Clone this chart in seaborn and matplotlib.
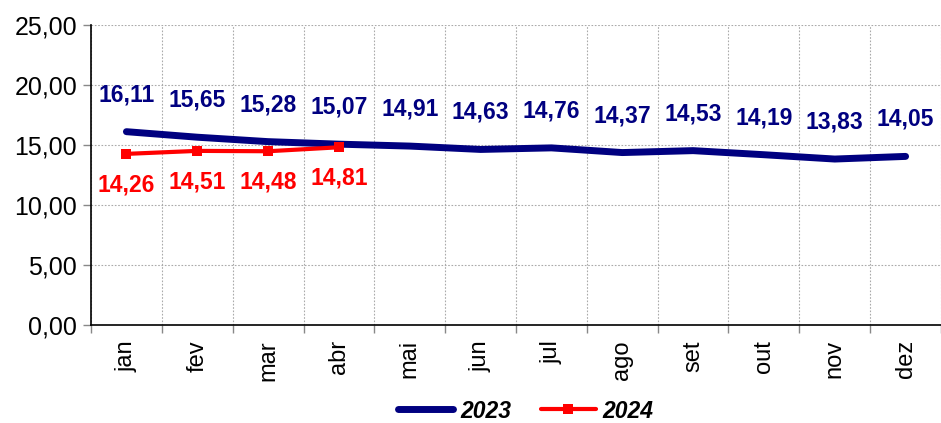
import matplotlib
matplotlib.use("Agg")
import matplotlib.pyplot as plt
from matplotlib.ticker import FixedLocator, FuncFormatter
import seaborn as sns
import pandas as pd
import numpy as np

months = ["jan", "fev", "mar", "abr", "mai", "jun", "jul", "ago", "set", "out", "nov", "dez"]
vals_2023 = [16.11, 15.65, 15.28, 15.07, 14.91, 14.63, 14.76, 14.37, 14.53, 14.19, 13.83, 14.05]
vals_2024 = [14.26, 14.51, 14.48, 14.81]

sns.set_theme(style="white")
plt.rcParams['font.family'] = ['Liberation Sans', 'DejaVu Sans']

df23 = pd.DataFrame({"x": np.arange(len(vals_2023)), "v": vals_2023, "ano": "2023"})
df24 = pd.DataFrame({"x": np.arange(len(vals_2024)), "v": vals_2024, "ano": "2024"})

fig = plt.figure(figsize=(9.41, 4.23), dpi=100)
ax = fig.add_axes([91/941, 1 - 325/423, 850/941, 300/423])

sns.lineplot(data=df23, x="x", y="v", ax=ax, color="#000080", linewidth=5, label="2023",
             solid_capstyle="round")
sns.lineplot(data=df24, x="x", y="v", ax=ax, color="#FF0000", linewidth=3, marker="s",
             markersize=7, markeredgewidth=0, label="2024")

def fmt(v):
    return f"{v:.2f}".replace(".", ",")

for i, v in enumerate(vals_2023):
    ax.annotate(fmt(v), (i, v), xytext=(0, 37), textcoords="offset pixels", ha="center",
                va="center", color="#000080", fontsize=16.5, fontweight="bold")
for i, v in enumerate(vals_2024):
    ax.annotate(fmt(v), (i, v), xytext=(0, -31), textcoords="offset pixels", ha="center",
                va="center", color="#FF0000", fontsize=16.5, fontweight="bold")

ax.set_xlim(-0.5, 11.5)
ax.set_ylim(0, 25)
ax.set_yticks([0, 5, 10, 15, 20, 25])
ax.yaxis.set_major_formatter(FuncFormatter(lambda v, p: fmt(v)))
ax.xaxis.set_major_locator(FixedLocator(np.arange(-0.5, 12, 1)))
ax.xaxis.set_minor_locator(FixedLocator(np.arange(0, 12)))
ax.set_xticklabels([], minor=False)
ax.set_xticklabels(months, minor=True, rotation=90, fontsize=17)
ax.tick_params(axis="x", which="major", length=6, color="#888888", width=1, bottom=True, direction="out")
ax.tick_params(axis="x", which="minor", length=0, pad=11)
ax.tick_params(axis="y", length=6, color="#888888", width=1, left=True, labelsize=18, pad=4, labelcolor="black")
ax.set_xlabel("")
ax.set_ylabel("")
ax.grid(True, which="major", color="#aaaaaa", linestyle=(0, (1.5, 1.5)), linewidth=0.8)
for s in ["top", "right"]:
    ax.spines[s].set_visible(False)
for s in ["left", "bottom"]:
    ax.spines[s].set_color("black")
    ax.spines[s].set_linewidth(1.2)
for t in ax.get_xticklabels(minor=True):
    t.set_color("black")

leg = ax.legend(loc="center", bbox_to_anchor=(526 / 941, (423 - 411) / 423), bbox_transform=fig.transFigure,
                ncol=2, frameon=False, handlelength=2.4, handletextpad=0.3, columnspacing=1.3,
                prop={"weight": "bold", "style": "italic", "size": 16.5})
for t in leg.get_texts():
    t.set_color("black")
fig.savefig("out.png", dpi=100)
